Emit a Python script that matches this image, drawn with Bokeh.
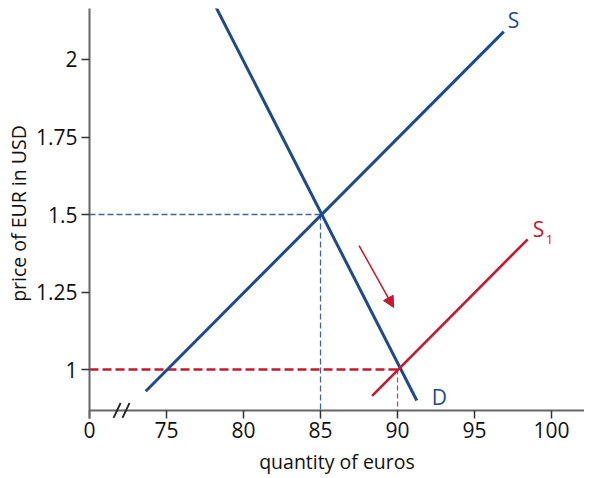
from bokeh.plotting import figure
from bokeh.models import Range1d, FixedTicker, Arrow, NormalHead
from bokeh.core.properties import value
from bokeh.embed import file_html
from bokeh.resources import INLINE

# ---- data ----
supply_q = [73.65, 96.9]
supply_p = [0.93, 2.09]
s1_q = [88.35, 98.45]
s1_p = [0.915, 1.42]
demand_q = [78.2, 91.25]
demand_p = [2.17, 0.90]
eq_old = (85, 1.5)
eq_new = (90, 1.0)
shift_arrow_q = [87.5, 89.75]
shift_arrow_p = [1.40, 1.20]
x_ticks = [70, 75, 80, 85, 90, 95, 100]
x_tick_labels = ["0", "75", "80", "85", "90", "95", "100"]
y_ticks = [1, 1.25, 1.5, 1.75, 2]
y_tick_labels = ["1", "1.25", "1.5", "1.75", "2"]
break_q0 = [71.56, 72.14]
break_q1 = [72.02, 72.60]

BLUE = "#1d4b8c"
BLUE_DASH = "#3f679c"
RED = "#c8182f"
MAUVE = "#a8506a"
AXIS = "#666666"
FONT = "Open Sans"

X0, X1 = 70.0, 102.14
Y_AXIS = 0.868          # price level where the quantity axis is drawn
Y0, Y1 = 0.842, 2.1645

p = figure(width=584, height=478, output_backend="svg", toolbar_location=None,
           x_range=Range1d(X0, X1), y_range=Range1d(Y0, Y1),
           min_border_left=89, min_border_right=0, min_border_top=8, min_border_bottom=60)
p.outline_line_color = None
p.xgrid.visible = False
p.ygrid.visible = False
p.background_fill_color = "white"

for ax in (p.xaxis[0], p.yaxis[0]):
    ax.axis_line_color = AXIS
    ax.axis_line_width = 2
    ax.major_tick_line_color = "#333333"
    ax.major_tick_line_width = 1.5
    ax.minor_tick_line_color = None
    ax.major_label_text_font = FONT
    ax.major_label_text_font_size = "21px"
    ax.major_label_text_color = "#111111"
    ax.axis_label_text_font = FONT
    ax.axis_label_text_font_size = "19.5px"
    ax.axis_label_text_font_style = "normal"
    ax.axis_label_text_color = "#111111"

p.yaxis.major_tick_out = 8
p.yaxis.major_tick_in = 0
p.xaxis.axis_line_color = None
p.xaxis.major_tick_in = 8
p.xaxis.major_tick_out = 0

p.xaxis.ticker = FixedTicker(ticks=x_ticks)
p.xaxis.major_label_overrides = {t: l for t, l in zip(x_ticks, x_tick_labels)}
p.yaxis.ticker = FixedTicker(ticks=y_ticks)
p.yaxis.major_label_overrides = {t: l for t, l in zip(y_ticks, y_tick_labels)}
p.xaxis.axis_label = "quantity of euros"
p.yaxis.axis_label = "price of EUR in USD"
p.xaxis.major_label_standoff = 3
p.xaxis.axis_label_standoff = 7
p.yaxis.major_label_standoff = 4
p.yaxis.axis_label_standoff = 1

# quantity axis line (drawn at the price floor) and break marks
p.line([X0, X1], [Y_AXIS, Y_AXIS], line_color=AXIS, line_width=2)
p.segment(x0=break_q0, y0=[Y_AXIS - 0.024] * 2, x1=break_q1, y1=[Y_AXIS + 0.024] * 2,
          line_color="#222222", line_width=1.8)

# dashed guide lines
p.line([X0, eq_old[0]], [eq_old[1], eq_old[1]], line_color=BLUE_DASH, line_width=1.3, line_dash="6 3")
p.line([eq_old[0], eq_old[0]], [eq_old[1], Y_AXIS], line_color=BLUE_DASH, line_width=1.3, line_dash="6 3")
p.line([X0, eq_new[0]], [eq_new[1], eq_new[1]], line_color=RED, line_width=2.5, line_dash="9 4")
p.line([eq_new[0], eq_new[0]], [eq_new[1], Y_AXIS], line_color=MAUVE, line_width=1.3, line_dash="5 3")

# curves
p.line(supply_q, supply_p, line_color=BLUE, line_width=3)
p.line(demand_q, demand_p, line_color=BLUE, line_width=3)
p.line(s1_q, s1_p, line_color=RED, line_width=2.6)

# shift arrow
p.add_layout(Arrow(end=NormalHead(size=11, fill_color=RED, line_color=RED),
                   x_start=shift_arrow_q[0], y_start=shift_arrow_p[0],
                   x_end=shift_arrow_q[1], y_end=shift_arrow_p[1],
                   line_color=RED, line_width=1.5))

# curve labels
p.text([supply_q[1]], [supply_p[1]], text=["S"], text_color=BLUE, text_font=value(FONT),
       text_font_size="21px", x_offset=4, y_offset=-12, text_baseline="middle", text_align="left")
p.text([s1_q[1]], [s1_p[1]], text=["S"], text_color=RED, text_font=value(FONT),
       text_font_size="21px", x_offset=5, y_offset=-10, text_baseline="middle", text_align="left")
p.text([s1_q[1]], [s1_p[1]], text=["1"], text_color=RED, text_font=value(FONT),
       text_font_size="13px", x_offset=18, y_offset=0, text_baseline="middle", text_align="left")
p.text([demand_q[1]], [demand_p[1]], text=["D"], text_color=BLUE, text_font=value(FONT),
       text_font_size="21px", x_offset=15, y_offset=-4, text_baseline="middle", text_align="left")

open("out.html", "w").write(file_html(p, INLINE))
